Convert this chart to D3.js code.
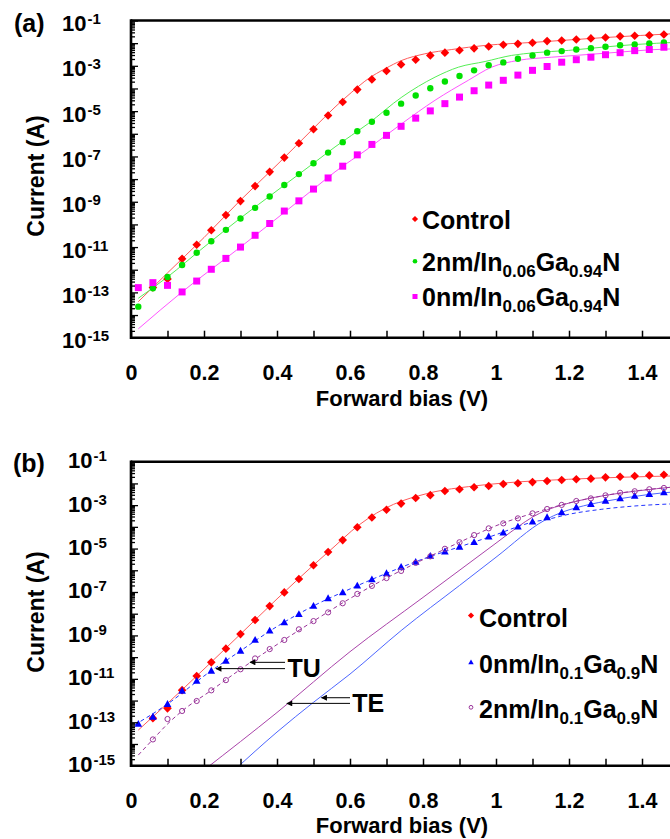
<!DOCTYPE html>
<html><head><meta charset="utf-8">
<script src="https://cdn.jsdelivr.net/npm/d3@7"></script>
<style>
html,body{margin:0;padding:0;background:#fff;}
svg{display:block;}
text{font-family:"Liberation Sans",Arial,sans-serif;font-weight:bold;fill:#000;}
</style>
</head><body>
<svg id="c" width="670" height="839"></svg>
<script>
// ---------- DATA (current given as log10 of amperes) ----------
const biasV = [0.02,0.06,0.10,0.14,0.18,0.22,0.26,0.30,0.34,0.38,0.42,0.46,
               0.50,0.54,0.58,0.62,0.66,0.70,0.74,0.78,0.82,0.86,0.90,0.94,
               0.98,1.02,1.06,1.10,1.14,1.18,1.22,1.26,1.30,1.34,1.38,1.42,1.46];

// Panel (a) measured points
const controlA = [null,-12.78,-12.41,-11.52,-10.90,-10.26,-9.59,-8.97,-8.31,-7.68,-7.05,-6.42,
                  -5.80,-5.19,-4.60,-4.05,-3.60,-3.23,-2.94,-2.73,-2.54,-2.42,-2.31,-2.23,
                  -2.15,-2.07,-2.03,-1.98,-1.91,-1.88,-1.84,-1.79,-1.75,-1.70,-1.67,-1.65,-1.62];
const nm2A = [-13.63,-12.82,-12.32,-11.79,-11.25,-10.74,-10.24,-9.74,-9.27,-8.77,-8.26,-7.78,
              -7.30,-6.83,-6.37,-5.89,-5.47,-5.07,-4.67,-4.31,-3.99,-3.69,-3.45,-3.20,
              -2.97,-2.85,-2.69,-2.54,-2.42,-2.35,-2.28,-2.22,-2.16,-2.09,-2.06,-2.01,-1.97];
const nm0A = [-12.79,-12.57,-12.69,-12.98,-12.50,-11.98,-11.50,-11.00,-10.48,-9.96,-9.41,-8.96,
              -8.44,-7.95,-7.43,-6.93,-6.47,-6.07,-5.67,-5.31,-4.99,-4.67,-4.38,-4.10,
              -3.85,-3.64,-3.41,-3.20,-3.03,-2.84,-2.73,-2.62,-2.51,-2.42,-2.33,-2.28,-2.18];
// Panel (a) fitted curves
const fitControlA_V = [0.02,0.10,0.20,0.30,0.40,0.50,0.559,0.605,0.650,0.696,0.742,0.805,0.879,0.970,1.107,1.290,1.50];
const fitControlA   = [-13.41,-12.14,-10.58,-8.93,-7.37,-5.76,-4.82,-4.16,-3.57,-3.13,-2.76,-2.47,-2.28,-2.10,-1.96,-1.76,-1.57];
const fitNm2A_V = [0.02,0.10,0.20,0.30,0.40,0.50,0.559,0.650,0.742,0.833,0.897,0.970,1.043,1.107,1.198,1.290,1.381,1.50];
const fitNm2A   = [-13.26,-12.32,-11.00,-9.72,-8.51,-7.30,-6.58,-5.55,-4.38,-3.50,-3.06,-2.81,-2.54,-2.42,-2.32,-2.18,-2.06,-1.96];
const fitNm0A_V = [0.02,0.14,0.30,0.50,0.559,0.650,0.742,0.833,0.924,0.988,1.061,1.152,1.244,1.335,1.427,1.50];
const fitNm0A   = [-14.61,-12.98,-11.00,-8.44,-7.68,-6.65,-5.55,-4.52,-3.64,-3.06,-2.76,-2.62,-2.51,-2.40,-2.29,-2.24];

// Panel (b) measured points
const controlB = [null,-12.81,-12.36,-11.52,-10.87,-10.24,-9.61,-8.94,-8.29,-7.65,-7.02,-6.40,
                  -5.77,-5.16,-4.61,-4.02,-3.57,-3.21,-2.93,-2.67,-2.54,-2.35,-2.27,-2.18,
                  -2.12,-2.03,-1.99,-1.94,-1.89,-1.84,-1.81,-1.78,-1.72,-1.69,-1.66,-1.63,-1.60];
const nm0B = [-13.08,-12.75,-12.16,-11.55,-11.10,-10.63,-10.17,-9.71,-9.21,-8.78,-8.40,-8.02,
              -7.64,-7.29,-7.02,-6.71,-6.42,-6.14,-5.85,-5.62,-5.34,-5.14,-4.92,-4.71,
              -4.45,-4.27,-3.99,-3.76,-3.56,-3.33,-3.10,-2.95,-2.80,-2.69,-2.58,-2.49,-2.41];
const nm2B = [null,-13.79,-12.85,-12.48,-12.02,-11.53,-11.06,-10.56,-10.06,-9.63,-9.21,-8.72,
              -8.34,-7.94,-7.52,-7.09,-6.72,-6.36,-6.03,-5.66,-5.36,-5.01,-4.71,-4.38,
              -4.07,-3.84,-3.61,-3.38,-3.18,-2.99,-2.81,-2.69,-2.55,-2.43,-2.36,-2.27,-2.21];
// Panel (b) fitted curves
const fitControlB_V = [0.02,0.10,0.20,0.30,0.40,0.50,0.559,0.605,0.650,0.696,0.742,0.788,0.833,0.924,1.015,1.198,1.50];
const fitControlB   = [-13.36,-12.13,-10.55,-8.94,-7.32,-5.76,-4.88,-4.18,-3.61,-3.15,-2.81,-2.57,-2.38,-2.15,-1.99,-1.81,-1.65];
const tuNm0B_V = [0.01,0.10,0.20,0.30,0.40,0.50,0.60,0.70,0.80,0.90,1.00,1.06,1.10,1.14,1.20,1.29,1.38,1.50];
const tuNm0B   = [-13.12,-12.16,-10.87,-9.71,-8.59,-7.64,-6.86,-6.14,-5.48,-4.92,-4.36,-3.99,-3.78,-3.66,-3.42,-3.19,-3.04,-2.93];
const tuNm2B_V = [0.02,0.06,0.10,0.14,0.22,0.30,0.40,0.50,0.60,0.70,0.80,0.90,1.00,1.10,1.20,1.30,1.40,1.50];
const tuNm2B   = [-14.51,-13.79,-13.08,-12.48,-11.53,-10.56,-9.42,-8.34,-7.30,-6.36,-5.51,-4.71,-3.95,-3.38,-2.90,-2.55,-2.31,-2.15];
const teNm0B_V = [0.28,0.40,0.50,0.60,0.742,0.90,1.00,1.134,1.18,1.22,1.30,1.38,1.46,1.50];
const teNm0B   = [-15.25,-13.45,-12.08,-10.78,-8.75,-6.70,-5.40,-3.69,-3.33,-3.12,-2.82,-2.60,-2.43,-2.38];
const teNm2B_V = [0.20,0.40,0.60,0.80,1.00,1.06,1.10,1.14,1.18,1.22,1.30,1.38,1.50];
const teNm2B   = [-15.20,-12.55,-9.75,-7.25,-4.75,-4.00,-3.55,-3.22,-3.00,-2.82,-2.55,-2.36,-2.14];

// Axis ticks / labels
const xTicks = [0,0.1,0.2,0.3,0.4,0.5,0.6,0.7,0.8,0.9,1.0,1.1,1.2,1.3,1.4,1.5];
const yLabelExps = [-1,-3,-5,-7,-9,-11,-13,-15];
const legendA = ["Control","2nm/In_{0.06}Ga_{0.94}N","0nm/In_{0.06}Ga_{0.94}N"];
const legendB = ["Control","0nm/In_{0.1}Ga_{0.9}N","2nm/In_{0.1}Ga_{0.9}N"];
// annotation arrows [tipV, tipLog, tailV]
const tuArrows = [[0.326,-10.24,0.422],[0.233,-10.53,0.422]];
const teArrows = [[0.522,-11.87,0.60],[0.427,-12.13,0.60]];

// ---------- DRAWING ----------
const svg = d3.select('#c');
const defs = svg.append('defs');
defs.append('marker').attr('id','ah').attr('viewBox','0 0 10 10').attr('refX',9).attr('refY',5)
  .attr('markerUnits','userSpaceOnUse')
  .attr('markerWidth',8).attr('markerHeight',6).attr('orient','auto')
  .append('path').attr('d','M0,0L10,5L0,10Z').attr('fill','#000');

const x = d3.scaleLinear().domain([0,1.5]).range([131,678.5]);

function sym(type, s){
  if(type==='diamond'){const r=4.3*s;return `M0,${-r}L${r},0L0,${r}L${-r},0Z`;}
  if(type==='circle'||type==='ocircle'){const r=(type==='circle'?3.2:2.6)*s;return d3.symbol(d3.symbolCircle,Math.PI*r*r)();}
  if(type==='square'){const h=3.5*s;return `M${-h},${-h}H${h}V${h}H${-h}Z`;}
  if(type==='triangle'){const a=3.8*s;return `M0,${-a*1.05}L${a},${a*0.75}L${-a},${a*0.75}Z`;}
}

function richText(sel, str, subSize, shift){
  const parts = str.split(/(_\{[^}]*\})/).filter(p=>p.length);
  let down=false;
  parts.forEach(p=>{
    if(p.startsWith('_{')){
      sel.append('tspan').attr('font-size',subSize).attr('dy',shift).text(p.slice(2,-1));
      down=true;
    } else {
      const t=sel.append('tspan').text(p);
      if(down){t.attr('dy',-shift);down=false;}
    }
  });
}

function panel(cfg){
  const g = svg.append('g');
  const y = d3.scaleLog().domain([1e-15,1e-1]).range([cfg.bottom,cfg.top]);
  const Y = v => y(Math.pow(10,v));
  const clipId = 'clip'+cfg.id;
  defs.append('clipPath').attr('id',clipId).append('rect')
    .attr('x',x(0)).attr('y',cfg.top).attr('width',x(1.5)-x(0)).attr('height',cfg.bottom-cfg.top);

  const lg = g.append('g').attr('clip-path',`url(#${clipId})`);
  cfg.fits.forEach(f=>{
    const pts = f.v.map((v,i)=>[v,f.i[i]]);
    lg.append('path')
      .attr('d', d3.line().x(d=>x(d[0])).y(d=>Y(d[1])).curve(d3.curveMonotoneX)(pts))
      .attr('fill','none').attr('stroke',f.color).attr('stroke-width',f.w||1)
      .attr('stroke-dasharray',f.dash||null);
  });

  cfg.series.forEach(s=>{
    const pts = biasV.map((v,i)=>[v,s.i[i]]).filter(d=>d[1]!==null);
    g.append('g').selectAll('path').data(pts).join('path')
      .attr('transform',d=>`translate(${x(d[0])},${Y(d[1])})`)
      .attr('d',sym(s.shape,1))
      .attr('fill',s.shape==='ocircle'?'none':s.color)
      .attr('stroke',s.shape==='ocircle'?s.color:'none')
      .attr('stroke-width',1);
  });

  // y axis ticks (inside)
  const decades = d3.range(-15,0).map(e=>Math.pow(10,e));
  const minors = [];
  d3.range(-15,-1).forEach(e=>{for(let m=2;m<=9;m++)minors.push(m*Math.pow(10,e));});
  const ax1 = g.append('g').attr('transform',`translate(${x(0)},0)`)
    .call(d3.axisRight(y).tickValues(decades).tickSize(7).tickFormat(''));
  const ax2 = g.append('g').attr('transform',`translate(${x(0)},0)`)
    .call(d3.axisRight(y).tickValues(minors).tickSize(4).tickFormat(''));
  [ax1,ax2].forEach(a=>{a.select('.domain').remove();a.selectAll('line').attr('stroke','#000').attr('stroke-width',1.3);});

  // x axis ticks (inside, pointing up)
  const axx = g.append('g').attr('transform',`translate(0,${cfg.bottom})`)
    .call(d3.axisBottom(x).tickValues(xTicks).tickSize(-7).tickPadding(27)
      .tickFormat(d=>{const k=Math.round(d*10);return (k%2===0)?d3.format('~g')(k/10):'';}));
  axx.select('.domain').remove();
  axx.selectAll('line').attr('stroke','#000').attr('stroke-width',1.5);
  axx.selectAll('text').attr('font-size',21.5).attr('font-family','"Liberation Sans",Arial,sans-serif').attr('font-weight','bold').attr('fill','#000');

  // spines
  g.append('line').attr('x1',x(0)).attr('x2',670).attr('y1',cfg.top).attr('y2',cfg.top).attr('stroke','#000').attr('stroke-width',2.6);
  g.append('line').attr('x1',x(0)).attr('x2',670).attr('y1',cfg.bottom).attr('y2',cfg.bottom).attr('stroke','#000').attr('stroke-width',2.6);
  g.append('line').attr('x1',x(0)).attr('x2',x(0)).attr('y1',cfg.top-1.3).attr('y2',cfg.bottom+1.3).attr('stroke','#000').attr('stroke-width',2.6);

  // y tick labels 10^n
  yLabelExps.forEach(e=>{
    const t = g.append('text').attr('x',cfg.labX).attr('y',Y(e)+cfg.labDy).attr('font-size',22);
    t.append('tspan').text('10');
    t.append('tspan').attr('font-size',15).attr('dy',-7).attr('dx',1).text('-'+Math.abs(e));
  });

  // titles
  g.append('text').attr('x',402).attr('y',cfg.bottom+cfg.xtDy).attr('text-anchor','middle').attr('font-size',22).text('Forward bias (V)');
  g.append('text').attr('transform',`translate(44,${cfg.ytY}) rotate(-90)`).attr('text-anchor','middle').attr('font-size',23).text('Current (A)');
  g.append('text').attr('x',cfg.tagX).attr('y',cfg.tagY).attr('font-size',25).text(cfg.tag);

  // legend
  cfg.legend.forEach((lab,i)=>{
    const it = cfg.series[i];
    const by = cfg.legY[i];
    g.append('path').attr('transform',`translate(${cfg.legMX},${by+cfg.legMDy})`)
      .attr('d',sym(it.shape,0.72))
      .attr('fill',it.shape==='ocircle'?'none':it.color)
      .attr('stroke',it.shape==='ocircle'?it.color:'none');
    const t = g.append('text').attr('x',cfg.legTX).attr('y',by).attr('font-size',25);
    richText(t, lab, 17, 6);
  });
  return {Y};
}

panel({
  id:'a', top:20.5, bottom:337.7, labX:62, labDy:10.5, xtDy:68.5, ytY:176, tag:'(a)', tagX:14, tagY:32,
  fits:[
    {v:fitControlA_V,i:fitControlA,color:'#ff5a5a'},
    {v:fitNm2A_V,i:fitNm2A,color:'#55ee55'},
    {v:fitNm0A_V,i:fitNm0A,color:'#ff55ff'}
  ],
  series:[
    {i:controlA,shape:'diamond',color:'#ff0000'},
    {i:nm2A,shape:'circle',color:'#00e000'},
    {i:nm0A,shape:'square',color:'#ff00ff'}
  ],
  legend:legendA, legY:[228.5,270.7,306], legMX:415, legMDy:-9.5, legTX:422
});

const pb = panel({
  id:'b', top:461.7, bottom:765.7, labX:68, labDy:6.5, xtDy:67.5, ytY:612, tag:'(b)', tagX:13, tagY:472,
  fits:[
    {v:teNm2B_V,i:teNm2B,color:'#aa44aa'},
    {v:teNm0B_V,i:teNm0B,color:'#4d66ff'},
    {v:fitControlB_V,i:fitControlB,color:'#ff5a5a'},
    {v:tuNm0B_V,i:tuNm0B,color:'#2233ff',dash:'4,3'},
    {v:tuNm2B_V,i:tuNm2B,color:'#993399',dash:'4,3'}
  ],
  series:[
    {i:controlB,shape:'diamond',color:'#ff0000'},
    {i:nm0B,shape:'triangle',color:'#0000ff'},
    {i:nm2B,shape:'ocircle',color:'#993399'}
  ],
  legend:legendB, legY:[626.5,673.3,718.3], legMX:471, legMDy:-11, legTX:479
});

// annotations in panel (b)
function arrows(list, label, lx, lyOff){
  list.forEach(a=>{
    svg.append('line').attr('x1',x(a[2])).attr('y1',pb.Y(a[1])).attr('x2',x(a[0])).attr('y2',pb.Y(a[1]))
      .attr('stroke','#000').attr('stroke-width',1).attr('marker-end','url(#ah)');
  });
  svg.append('text').attr('x',x(lx)).attr('y',pb.Y(list[1][1])+lyOff).attr('font-size',25).text(label);
}
arrows(tuArrows,'TU',0.429,8);
arrows(teArrows,'TE',0.606,8.5);
</script>
</body></html>
